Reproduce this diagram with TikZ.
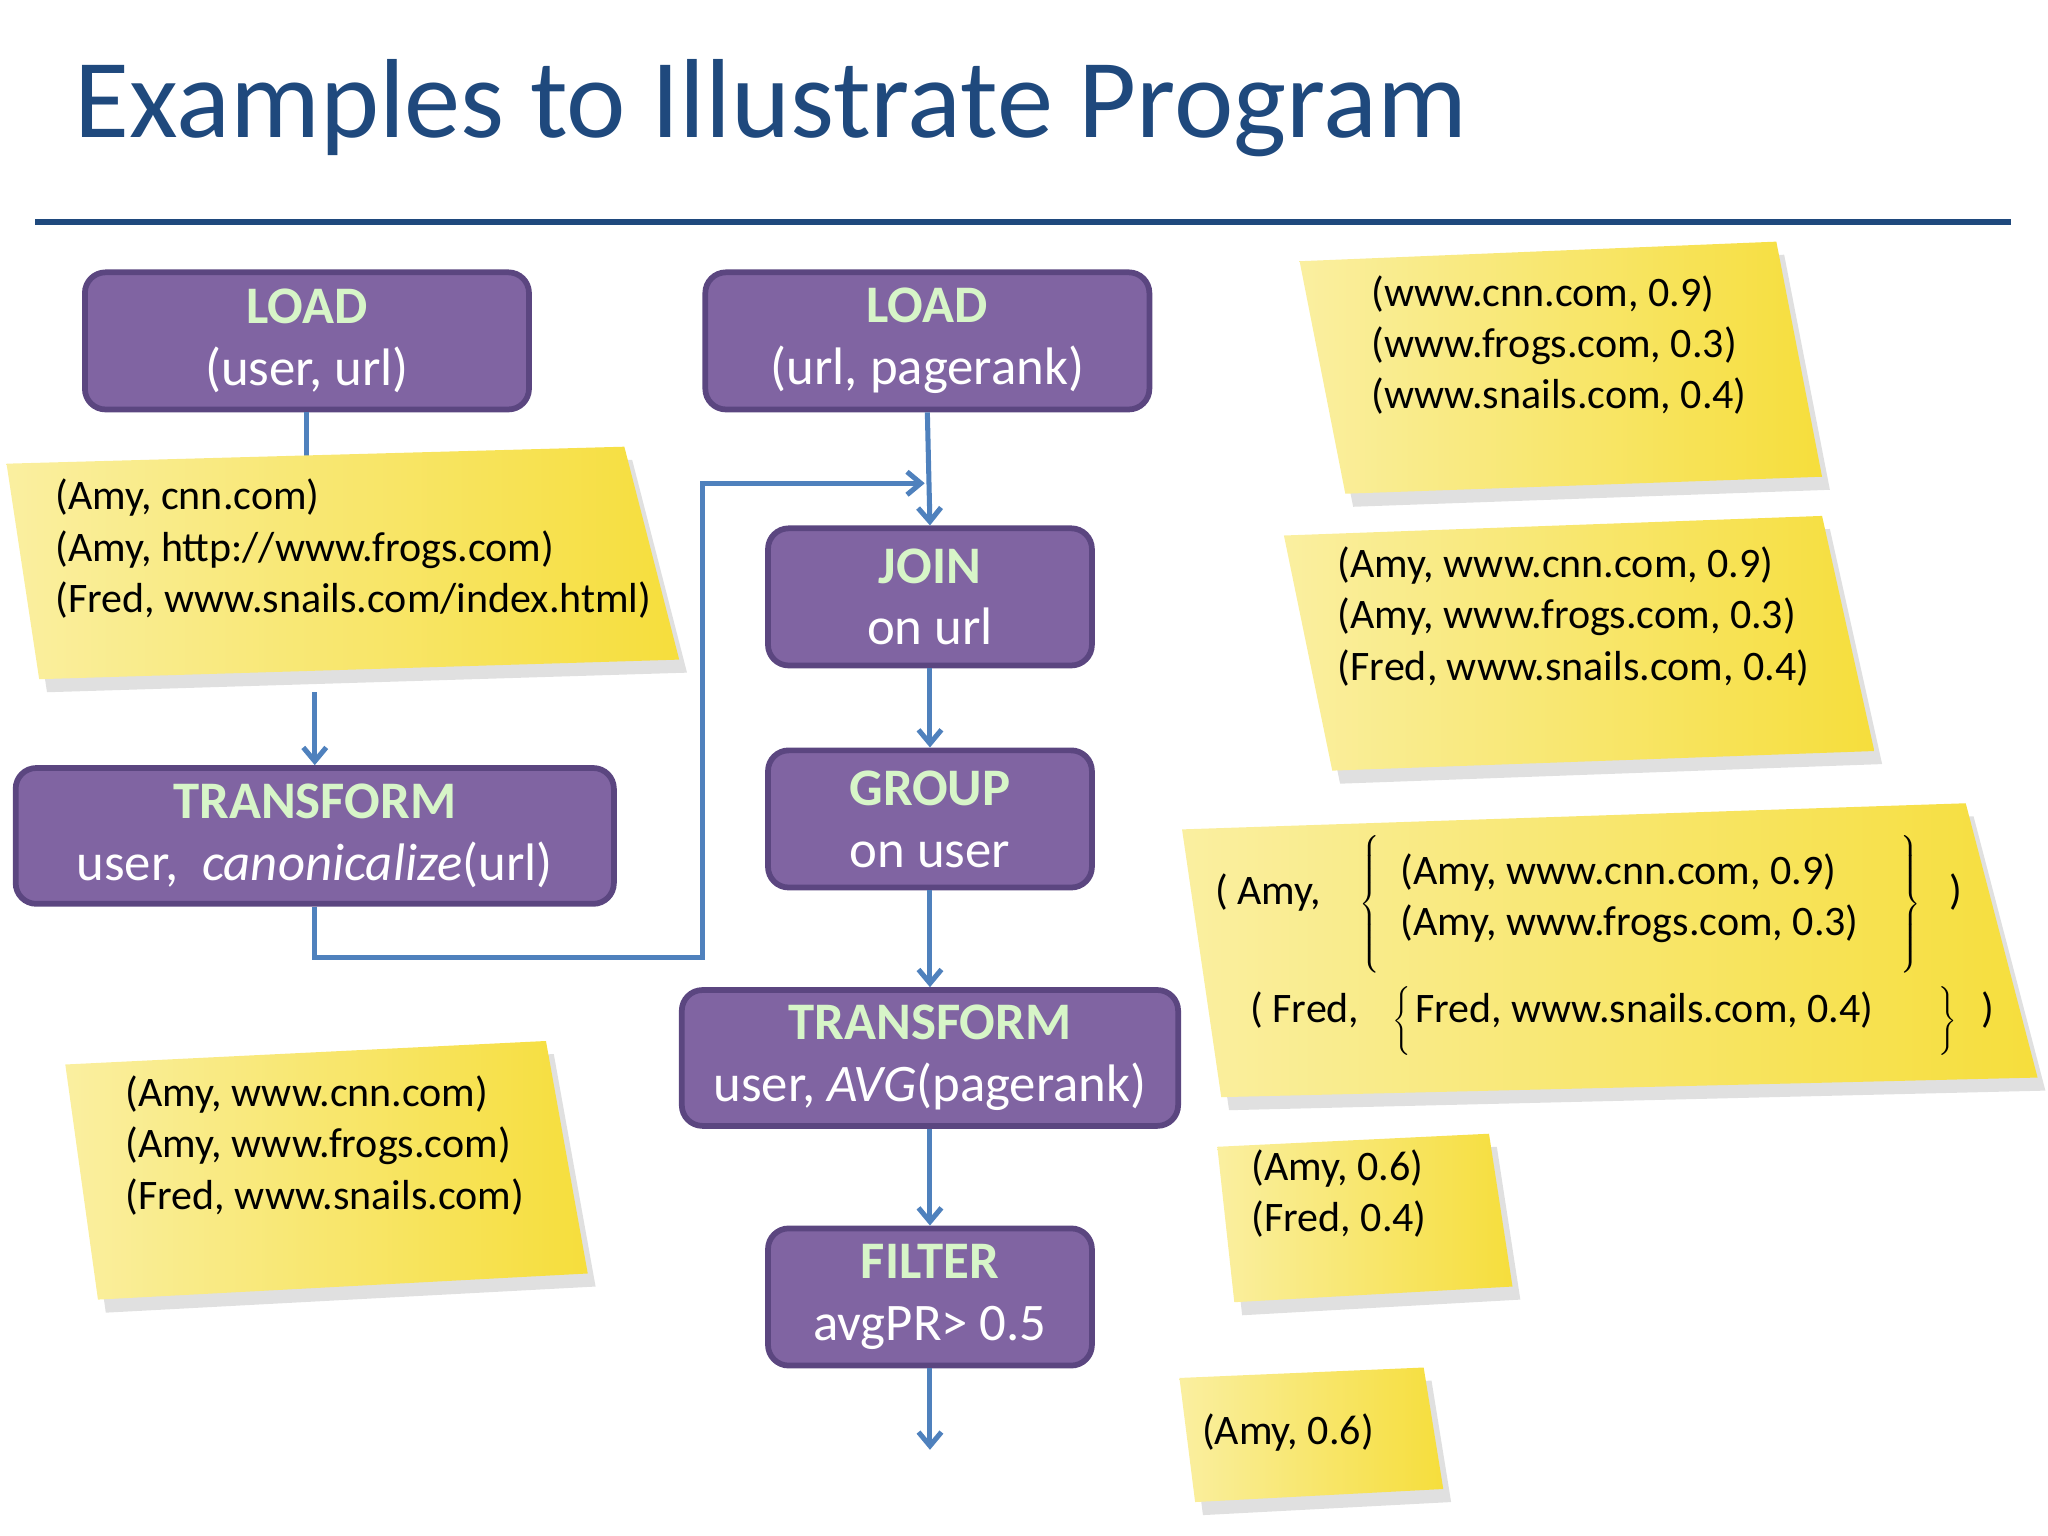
\documentclass[tikz,border=0pt]{standalone}
\usepackage{fontspec}
\setmainfont{Carlito}
\usetikzlibrary{arrows.meta,calc}
\definecolor{titleblue}{HTML}{1F497D}
\definecolor{boxfill}{HTML}{8064A2}
\definecolor{boxdraw}{HTML}{5B4680}
\definecolor{hdr}{HTML}{D7F5C8}
\definecolor{arr}{HTML}{4F81BD}
\definecolor{stA}{HTML}{FAEFA0}
\definecolor{stB}{HTML}{F6DE3C}
\newcommand{\mysticky}[4]{%
  \fill[black!12] ($#1+(6,10)$) -- ($#2+(6,10)$) -- ($#3+(6,10)$) -- ($#4+(6,10)$) -- cycle;
  \shade[left color=stA,right color=stB] #1 -- #2 -- #3 -- #4 -- cycle;}
\begin{document}
\begin{tikzpicture}[x=0.02cm,y=-0.02cm,
  box/.style={draw=boxdraw,line width=2.5pt,fill=boxfill,rounded corners=9pt,text=white,align=center,font=\fontsize{23}{27}\selectfont,inner sep=0pt},
  con/.style={draw=arr,line width=2.2pt,-{Straight Barb[length=6pt,width=10pt]}},
  lin/.style={draw=arr,line width=2.2pt},
  txt/.style={anchor=west,align=left,font=\fontsize{18.3}{22.3}\selectfont,inner sep=0pt},
  brc/.style={inner sep=0pt,font=\boldmath}]
\useasboundingbox (0,0) rectangle (1568,1176);
% title
\node[anchor=base west,inner sep=0pt,text=titleblue,font=\fontsize{49}{58}\selectfont] (title) at (57,105) {Examples to Illustrate Program};
\draw[titleblue,line width=3pt] (27,170) -- (1540,170);
% boxes
\node[box,minimum width=340*0.02cm,minimum height=105*0.02cm] (load1) at (235,261) {{\color{hdr}\bfseries LOAD}\\(user, url)};
\node[box,minimum width=340*0.02cm,minimum height=105*0.02cm] (load2) at (710,261) {{\color{hdr}\bfseries LOAD}\\(url, pagerank)};
\node[box,minimum width=248*0.02cm,minimum height=105*0.02cm] (join) at (712,457) {{\color{hdr}\bfseries JOIN}\\on url};
\node[box,minimum width=248*0.02cm,minimum height=105*0.02cm] (group) at (712,627) {{\color{hdr}\bfseries GROUP}\\on user};
\node[box,minimum width=380*0.02cm,minimum height=104*0.02cm] (tr2) at (712,810) {{\color{hdr}\bfseries TRANSFORM}\\user, \textit{AVG}(pagerank)};
\node[box,minimum width=248*0.02cm,minimum height=105*0.02cm] (filter) at (712,993) {{\color{hdr}\bfseries FILTER}\\avgPR> 0.5};
\node[box,minimum width=458*0.02cm,minimum height=104*0.02cm] (tr1) at (241,640) {{\color{hdr}\bfseries TRANSFORM}\\user,\ \ \textit{canonicalize}(url)};
% connectors
\coordinate (c1) at (235,360);
\coordinate (c2) at (241,530);
\coordinate (end) at (712,1110);
\draw[lin] (load1.south) -- (c1);
\draw[con] (c2) -- (tr1.north);
\draw[con] (tr1.south) -- ++(0,39) -| (538,370) -- (708,370);
\draw[con] (load2.south) -- (join.north);
\draw[con] (join.south) -- (group.north);
\draw[con] (group.south) -- (tr2.north);
\draw[con] (tr2.south) -- (filter.north);
\draw[con] (filter.south) -- (end);
% stickies
\mysticky{(5,355)}{(478,342)}{(520,505)}{(30,520)}
\node[txt] (s1) at (42,420) {(Amy, cnn.com)\\(Amy, http://www.frogs.com)\\(Fred, www.snails.com/index.html)};
\mysticky{(995,200)}{(1360,185)}{(1395,365)}{(1030,378)}
\node[txt] (s2) at (1050,264) {(www.cnn.com, 0.9)\\(www.frogs.com, 0.3)\\(www.snails.com, 0.4)};
\mysticky{(983,410)}{(1395,395)}{(1435,575)}{(1020,590)}
\node[txt] (s3) at (1024,472) {(Amy, www.cnn.com, 0.9)\\(Amy, www.frogs.com, 0.3)\\(Fred, www.snails.com, 0.4)};
\mysticky{(905,635)}{(1505,615)}{(1560,825)}{(935,840)}
\node[txt] (a1) at (930,683) {( Amy,};
\node[brc] (b1) at (1050,692) {$\left\{\rule[-0.95cm]{0pt}{1.9cm}\right.$};
\node[txt] (a2) at (1072,688) {(Amy, www.cnn.com, 0.9)\\(Amy, www.frogs.com, 0.3)};
\node[brc] (b2) at (1462,692) {$\left.\rule[-0.95cm]{0pt}{1.9cm}\right\}$};
\node[txt] (a3) at (1492,683) {)};
\node[txt] (a4) at (957,773) {( Fred,};
\node[brc] (b3) at (1074,782) {$\left\{\rule[-0.4cm]{0pt}{0.8cm}\right.$};
\node[txt] (a5) at (1083,773) {Fred, www.snails.com, 0.4)};
\node[brc] (b4) at (1490,782) {$\left.\rule[-0.4cm]{0pt}{0.8cm}\right\}$};
\node[txt] (a6) at (1517,773) {)};
\mysticky{(50,815)}{(418,797)}{(450,975)}{(75,995)}
\node[txt] (s5) at (96,877) {(Amy, www.cnn.com)\\(Amy, www.frogs.com)\\(Fred, www.snails.com)};
\mysticky{(932,878)}{(1140,868)}{(1158,985)}{(945,997)}
\node[txt] (s6) at (958,914) {(Amy, 0.6)\\(Fred, 0.4)};
\mysticky{(903,1055)}{(1090,1047)}{(1105,1140)}{(915,1150)}
\node[txt] (s7) at (920,1097) {(Amy, 0.6)};
\end{tikzpicture}
\end{document}
